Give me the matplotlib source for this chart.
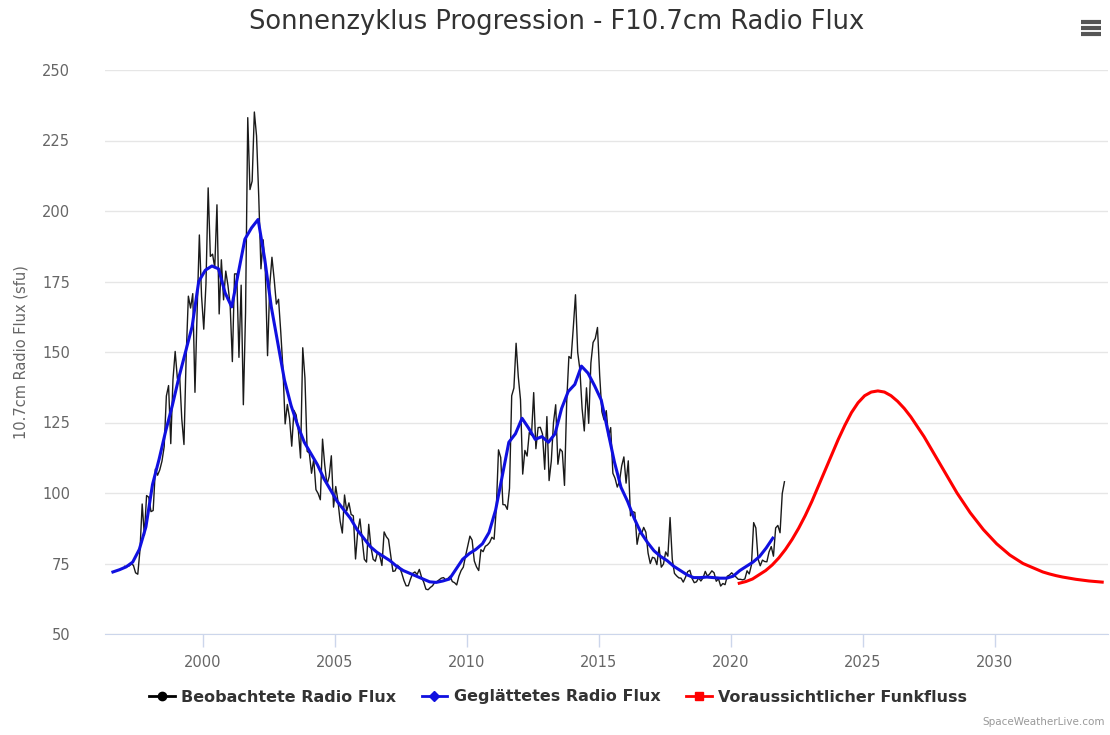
import numpy as np
import matplotlib
matplotlib.use("Agg")
import matplotlib.pyplot as plt
from matplotlib.lines import Line2D

# ---------------- data ----------------
obs_start = 1997.0  # first observed month (Jan 1997)
obs_1997 = [74.0, 73.9, 74.1, 74.8, 74.4, 71.7, 71.2, 79.7, 96.1, 85.0, 99.1, 98.5]
obs_1998 = [93.4, 93.8, 108.5, 106.3, 108.2, 111.3, 116.4, 134.4, 138.1, 117.5, 140.2, 150.2]
obs_1999 = [140.6, 142.2, 126.3, 117.2, 148.4, 169.8, 165.6, 170.7, 135.7, 164.8, 191.5, 169.8]
obs_2000 = [158.1, 174.1, 208.2, 183.9, 184.7, 179.9, 202.2, 163.5, 182.7, 168.5, 178.7, 173.6]
obs_2001 = [166.6, 146.6, 177.7, 177.7, 148.1, 173.7, 131.3, 163.9, 233.1, 207.6, 210.6, 235.1]
obs_2002 = [226.6, 205.0, 179.5, 189.8, 178.4, 148.7, 173.5, 183.6, 175.9, 167.0, 168.7, 157.2]
obs_2003 = [144.0, 124.5, 131.4, 126.5, 116.6, 129.3, 127.7, 122.2, 112.4, 151.5, 140.8, 114.8]
obs_2004 = [114.1, 107.0, 112.0, 101.2, 99.8, 97.6, 119.1, 109.9, 103.0, 105.8, 113.2, 95.0]
obs_2005 = [102.3, 97.2, 90.0, 85.8, 99.3, 93.7, 96.5, 92.4, 91.9, 76.6, 86.3, 90.8]
obs_2006 = [83.5, 76.5, 75.5, 88.9, 80.9, 76.5, 75.8, 79.0, 77.8, 74.3, 86.2, 84.5]
obs_2007 = [83.5, 77.8, 72.2, 72.4, 74.4, 73.7, 71.6, 69.0, 67.1, 67.1, 69.5, 71.5]
obs_2008 = [72.0, 71.1, 72.9, 70.2, 68.4, 65.9, 65.7, 66.5, 67.1, 68.3, 68.6, 69.2]
obs_2009 = [69.8, 70.0, 69.2, 69.7, 70.5, 68.6, 68.2, 67.4, 70.5, 72.5, 73.7, 77.6]
obs_2010 = [81.1, 84.7, 83.3, 75.9, 73.8, 72.5, 79.9, 79.2, 81.1, 81.6, 82.5, 84.3]
obs_2011 = [83.6, 94.5, 115.3, 112.6, 95.9, 95.8, 94.2, 101.7, 134.5, 137.2, 153.1, 141.2]
obs_2012 = [133.1, 106.7, 115.1, 113.1, 121.5, 120.5, 135.6, 115.7, 123.2, 123.3, 120.9, 108.4]
obs_2013 = [127.1, 104.4, 111.3, 125.0, 131.3, 110.2, 115.6, 114.7, 102.7, 132.2, 148.4, 147.7]
obs_2014 = [158.6, 170.3, 149.9, 143.8, 130.0, 122.0, 137.3, 124.7, 146.1, 153.4, 154.8, 158.7]
obs_2015 = [141.7, 128.8, 125.9, 129.2, 120.1, 123.2, 107.0, 105.2, 102.1, 104.1, 109.6, 112.8]
obs_2016 = [103.5, 111.4, 91.9, 93.4, 93.1, 81.8, 85.8, 85.5, 87.8, 86.1, 78.7, 75.0]
obs_2017 = [77.2, 76.9, 74.6, 80.8, 73.7, 74.8, 79.1, 77.6, 91.3, 76.5, 71.5, 70.6]
obs_2018 = [69.9, 69.8, 68.4, 70.1, 72.1, 72.6, 69.7, 68.2, 68.5, 69.9, 68.8, 69.9]
obs_2019 = [72.2, 70.5, 71.3, 72.4, 71.7, 68.7, 69.6, 67.0, 67.9, 67.5, 70.5, 70.9]
obs_2020 = [71.7, 70.9, 70.2, 69.4, 69.4, 69.2, 69.5, 72.4, 71.3, 74.5, 89.5, 87.6]
obs_2021 = [76.6, 74.2, 76.2, 75.7, 75.6, 79.1, 81.0, 77.6, 87.6, 88.5, 85.9, 99.8]
obs_2022 = [104.0]

smooth_start = 1996.6   # quarterly smoothed values
smooth_vals = [72.0, 72.8, 73.8, 75.5, 80, 88, 103, 112, 122, 131, 141, 150, 159, 175,
               179, 180.5, 179.5, 171, 166, 178, 190, 194, 197, 183, 166, 153, 140, 131,
               124, 118, 114, 110, 105, 101, 97, 94, 91, 87, 84, 81, 79, 77.5, 76, 74,
               72.5, 71.5, 70.5, 69.5, 68.5, 68.3, 68.8, 69.5, 73, 76.5, 78.5, 80, 82, 86,
               94, 106, 118, 121, 126.5, 123, 119, 120, 118, 121, 130, 136, 138.5, 145,
               142.5, 138, 133, 122, 111, 102, 97, 91, 86, 82.5, 79.5, 77.5, 76, 74, 72.5,
               71, 70, 70, 70.2, 70, 69.8, 69.8, 70.5, 72.5, 74, 75.5, 77.5, 80.5, 84]

pred_start = 2020.33    # quarterly predicted values
pred_vals = [68.0, 68.6, 69.5, 71, 72.5, 74.5, 77, 80, 83.5, 87.5, 92, 97, 102.5, 108,
             113.5, 119, 124, 128.5, 132, 134.5, 135.8, 136.2, 135.8, 134.5, 132.5, 130,
             127, 123.5, 120, 116, 112, 108, 104, 100, 96.5, 93, 90, 87, 84.5, 82, 80, 78,
             76.5, 75, 74, 73, 72, 71.3, 70.7, 70.2, 69.8, 69.4, 69.1, 68.8, 68.6, 68.4]

title = "Sonnenzyklus Progression - F10.7cm Radio Flux"
ylabel = "10.7cm Radio Flux (sfu)"
legend_labels = ["Beobachtete Radio Flux", "Geglättetes Radio Flux", "Voraussichtlicher Funkfluss"]
x_ticks = [2000, 2005, 2010, 2015, 2020, 2025, 2030]
y_ticks = [50, 75, 100, 125, 150, 175, 200, 225, 250]

# ---------------- build series ----------------
obs_vals = (obs_1997 + obs_1998 + obs_1999 + obs_2000 + obs_2001 + obs_2002 + obs_2003 +
            obs_2004 + obs_2005 + obs_2006 + obs_2007 + obs_2008 + obs_2009 + obs_2010 +
            obs_2011 + obs_2012 + obs_2013 + obs_2014 + obs_2015 + obs_2016 + obs_2017 +
            obs_2018 + obs_2019 + obs_2020 + obs_2021 + obs_2022)
obs_x = obs_start + np.arange(len(obs_vals)) / 12.0 + 1 / 24.0
smooth_x = smooth_start + 0.25 * np.arange(len(smooth_vals))
pred_x = pred_start + 0.25 * np.arange(len(pred_vals))

# ---------------- figure ----------------
fig = plt.figure(figsize=(11.1, 7.35), dpi=100)
ax = fig.add_axes([105 / 1110, 1 - 634 / 735, 1003 / 1110, (634 - 70) / 735])

grid_c = "#e6e6e6"
axis_c = "#ccd6eb"
lab_c = "#666666"

ax.plot(obs_x, obs_vals, color="#1a1a1a", lw=1.0, zorder=3)
ax.plot(smooth_x, smooth_vals, color="#1010e0", lw=2.2, zorder=4)
ax.plot(pred_x, pred_vals, color="#ff0000", lw=2.2, zorder=4)

ax.set_xlim(1996.3, 2034.3)
ax.set_ylim(50, 250)
ax.set_yticks(y_ticks)
ax.set_xticks(x_ticks)
ax.yaxis.grid(True, color=grid_c, lw=1)
ax.set_axisbelow(True)
for s in ["left", "right", "top"]:
    ax.spines[s].set_visible(False)
ax.spines["bottom"].set_color(axis_c)
ax.tick_params(axis="y", length=0, pad=25, labelsize=10.5, labelcolor=lab_c)
ax.tick_params(axis="x", length=9, width=1, color=axis_c, pad=6, labelsize=10.5, labelcolor=lab_c)
ax.set_ylabel(ylabel, color=lab_c, fontsize=10.5)
ax.yaxis.set_label_coords(-76 / 1003, 0.5)

fig.text(557 / 1110, 1 - 22 / 735, title, ha="center", va="center", fontsize=18.5,
         color="#333333")

handles = [
    Line2D([], [], color="#000000", lw=2, marker="o", markersize=6),
    Line2D([], [], color="#1010e0", lw=2, marker="D", markersize=5),
    Line2D([], [], color="#ff0000", lw=2, marker="s", markersize=6),
]
leg = fig.legend(handles, legend_labels, loc="center", bbox_to_anchor=(558 / 1110, 1 - 697 / 735),
                 ncol=3, frameon=False, handlelength=1.6, handletextpad=0.4, columnspacing=1.6,
                 prop={"weight": "bold", "size": 11.5})
for t in leg.get_texts():
    t.set_color("#333333")

fig.text(1105 / 1110, 1 - 722 / 735, "SpaceWeatherLive.com", ha="right", va="center",
         fontsize=7.5, color="#999999")

# menu icon
for yy in [22, 28, 34]:
    fig.add_artist(Line2D([1081 / 1110, 1101 / 1110], [1 - yy / 735, 1 - yy / 735],
                          color="#555555", lw=3, solid_capstyle="butt"))

fig.savefig("out.png", dpi=100)
